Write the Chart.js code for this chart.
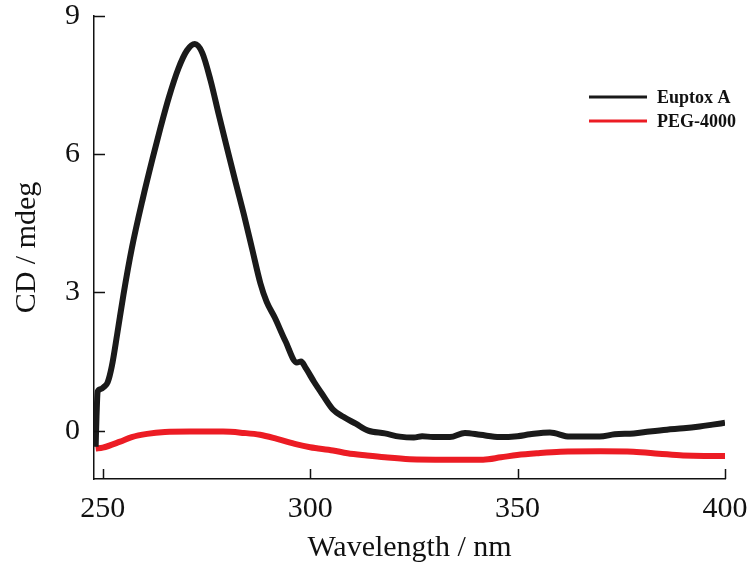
<!DOCTYPE html>
<html lang="en">
<head>
    <meta charset="UTF-8">
    <title>CD spectra</title>
    <script src="https://cdn.jsdelivr.net/npm/chart.js"></script>
    <style>
        body {
            margin: 0;
            background: #fff;
        }
        .wrap {
            width: 750px;
            height: 568px;
            position: relative;
        }
    </style>
</head>
<body>
    <div class="wrap">
        <canvas id="cdChart"></canvas>
    </div>

    <script>
        // Euptox A spectrum (wavelength nm, CD mdeg)
        const euptoxWl = [248.3, 248.5, 248.8, 249.5, 250.3, 251.2, 252.2, 253.5, 255, 257, 259.7, 262, 264, 266, 268.2, 270.3, 272.2, 274, 276, 278, 280.2, 282, 284, 286, 288, 289.5, 291.5, 294, 296.8, 297.8, 299, 301, 303, 305.5, 308, 311, 314, 318, 321.6, 325, 327, 329.6, 333.7, 337.3, 341, 345.7, 350, 353, 357.8, 362.6, 366, 369.8, 373.4, 378, 381.8, 386, 390, 393.9, 397, 400];
        const euptoxCd = [-0.35, 0.3, 0.85, 0.9, 0.95, 1.05, 1.4, 2.1, 2.95, 3.95, 5.05, 5.9, 6.6, 7.25, 7.85, 8.25, 8.39, 8.2, 7.6, 6.85, 6.05, 5.4, 4.7, 3.95, 3.2, 2.8, 2.45, 1.95, 1.48, 1.5, 1.35, 1.05, 0.78, 0.46, 0.3, 0.15, 0.0, -0.06, -0.13, -0.15, -0.12, -0.14, -0.14, -0.05, -0.09, -0.14, -0.12, -0.08, -0.04, -0.13, -0.13, -0.13, -0.08, -0.06, -0.02, 0.02, 0.05, 0.09, 0.13, 0.17];

        // PEG-4000 spectrum
        const pegWl = [248.3, 250, 254.2, 257, 260.7, 265, 271, 279, 284, 287.9, 292, 296.8, 300, 305.5, 309, 313.7, 318, 324, 333, 341.7, 346, 349.9, 355, 360.3, 370, 377.9, 384, 389.9, 395, 400];
        const pegCd = [-0.39, -0.37, -0.24, -0.14, -0.07, -0.03, -0.02, -0.02, -0.05, -0.09, -0.18, -0.3, -0.36, -0.43, -0.49, -0.54, -0.58, -0.62, -0.63, -0.63, -0.58, -0.53, -0.49, -0.46, -0.45, -0.46, -0.5, -0.54, -0.55, -0.55];

        const seriesNames = ['Euptox A', 'PEG-4000'];
        const xTicks = [250, 300, 350, 400];
        const yTicks = [0, 3, 6, 9];

        const toPoints = (xs, ys) => xs.map((x, i) => ({ x: x, y: ys[i] }));

        // inward tick marks and a small legend in the upper right
        const decorations = {
            id: 'decorations',
            afterDraw(chart) {
                const ctx = chart.ctx;
                const xs = chart.scales.x;
                const ys = chart.scales.y;
                const area = chart.chartArea;
                ctx.save();
                ctx.strokeStyle = '#111';
                ctx.lineWidth = 1.5;
                ctx.beginPath();
                xTicks.forEach(v => {
                    const px = Math.round(xs.getPixelForValue(v)) + 0.5;
                    ctx.moveTo(px, area.bottom);
                    ctx.lineTo(px, area.bottom - 10);
                });
                yTicks.forEach(v => {
                    const py = Math.round(ys.getPixelForValue(v)) + 0.5;
                    ctx.moveTo(area.left, py);
                    ctx.lineTo(area.left + 11, py);
                });
                ctx.stroke();

                ctx.font = 'bold 18px "Liberation Serif", serif';
                ctx.textBaseline = 'middle';
                chart.data.datasets.forEach((ds, i) => {
                    const y = 97 + i * 24;
                    ctx.strokeStyle = ds.borderColor;
                    ctx.lineWidth = 3;
                    ctx.beginPath();
                    ctx.moveTo(589, y);
                    ctx.lineTo(647, y);
                    ctx.stroke();
                    ctx.fillStyle = '#111';
                    ctx.fillText(ds.label, 657, y + 1);
                });
                ctx.restore();
            }
        };

        const serif = '"Liberation Serif", "Times New Roman", serif';

        new Chart(document.getElementById('cdChart'), {
            type: 'line',
            data: {
                datasets: [
                    {
                        label: seriesNames[0],
                        data: toPoints(euptoxWl, euptoxCd),
                        borderColor: '#1a1a1a',
                        borderWidth: 6,
                        pointRadius: 0,
                        cubicInterpolationMode: 'monotone'
                    },
                    {
                        label: seriesNames[1],
                        data: toPoints(pegWl, pegCd),
                        borderColor: '#ec1c24',
                        borderWidth: 6,
                        pointRadius: 0,
                        cubicInterpolationMode: 'monotone'
                    }
                ]
            },
            options: {
                responsive: true,
                maintainAspectRatio: false,
                animation: false,
                layout: {
                    padding: { left: 0, top: 16, right: 25, bottom: 0 }
                },
                plugins: {
                    legend: { display: false },
                    tooltip: { enabled: false }
                },
                scales: {
                    x: {
                        type: 'linear',
                        min: 247.9,
                        max: 400,
                        afterBuildTicks: s => { s.ticks = xTicks.map(v => ({ value: v })); },
                        afterFit: s => {
                            s.height = 89;
                            s.paddingLeft = 0;
                            s.paddingRight = 0;
                        },
                        grid: { display: true, drawOnChartArea: false, drawTicks: false },
                        border: { display: true, color: '#111', width: 1.5 },
                        ticks: {
                            color: '#111',
                            padding: 12,
                            maxRotation: 0,
                            font: { family: serif, size: 30 }
                        },
                        title: {
                            display: true,
                            text: 'Wavelength / nm',
                            color: '#111',
                            padding: { top: 0, bottom: 2 },
                            font: { family: serif, size: 30 }
                        }
                    },
                    y: {
                        min: -1.05,
                        max: 9,
                        afterBuildTicks: s => { s.ticks = yTicks.map(v => ({ value: v })); },
                        afterFit: s => {
                            s.width = 94;
                            s.paddingTop = 0;
                            s.paddingBottom = 0;
                        },
                        grid: { display: true, drawOnChartArea: false, drawTicks: false },
                        border: { display: true, color: '#111', width: 1.5 },
                        ticks: {
                            color: '#111',
                            padding: 14,
                            font: { family: serif, size: 30 }
                        },
                        title: {
                            display: true,
                            text: 'CD / mdeg',
                            color: '#111',
                            padding: { top: 9, bottom: 0 },
                            font: { family: serif, size: 30 }
                        }
                    }
                }
            },
            plugins: [decorations]
        });
    </script>
</body>
</html>
